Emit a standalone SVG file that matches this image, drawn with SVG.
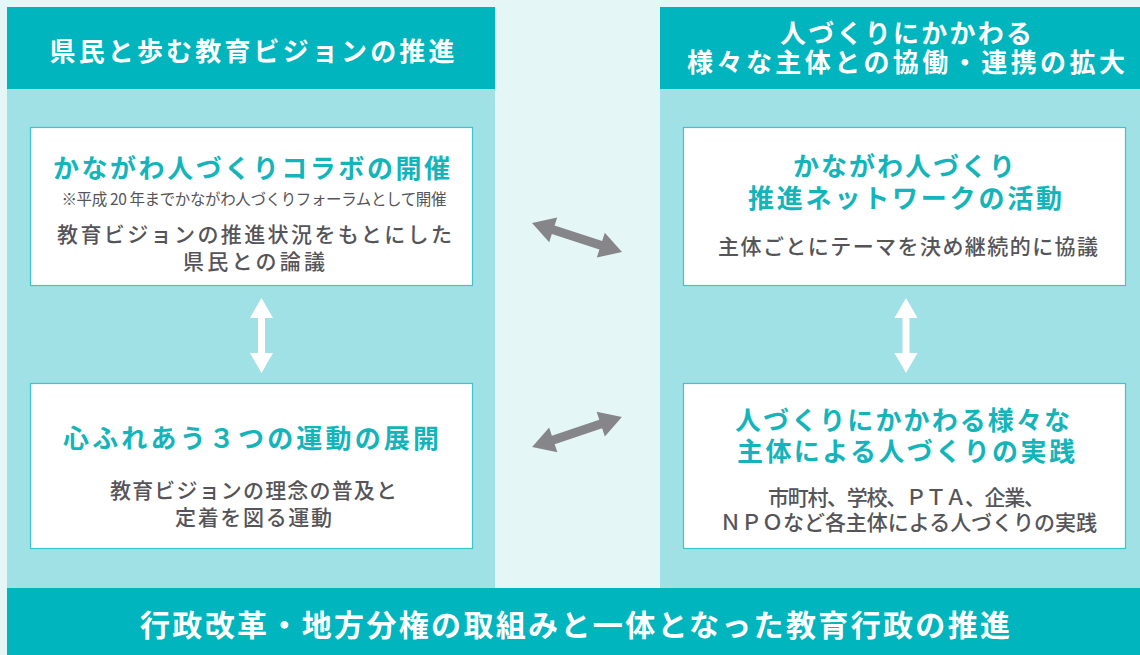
<svg xmlns="http://www.w3.org/2000/svg" width="1140" height="655" viewBox="0 0 1140 655">
<style>
.bg{fill:#e4f6f6}
.panel{fill:#9fe1e5}
.hdr{fill:#00b5bd}
.box{fill:#ffffff;stroke:#3cc6ca;stroke-width:1.2}
text{font-family:"Noto Sans CJK JP","Noto Sans",sans-serif;text-anchor:middle}
.ht{fill:#ffffff;font-weight:bold;font-size:26px}
.tt{fill:#14b4bb;font-weight:bold;font-size:26px}
.bt{fill:#555559;font-size:21px;font-weight:500}
.nt{fill:#555559;font-size:15.5px}
.wa{fill:#ffffff}
.ga{fill:#86868a}
</style>
<defs>
<path id="garrow" d="M-47.3,0 L-25,-13 L-25,-4.5 L25,-4.5 L25,-13 L47.3,0 L25,13 L25,4.5 L-25,4.5 L-25,13 Z"/>
<path id="varrow" d="M0,-37.5 L11.5,-17.5 L3.5,-17.5 L3.5,17.5 L11.5,17.5 L0,37.5 L-11.5,17.5 L-3.5,17.5 L-3.5,-17.5 L-11.5,-17.5 Z"/>
</defs>
<rect class="bg" x="0" y="0" width="1140" height="655"/>

<g id="left-panel">
<rect class="panel" x="7" y="89" width="488" height="499"/>
<rect class="hdr" x="7" y="7" width="488" height="82"/>
<text class="ht" x="252" y="61" textLength="405" lengthAdjust="spacing">県民と歩む教育ビジョンの推進</text>
</g>

<g id="right-panel">
<rect class="panel" x="660" y="89" width="480" height="499"/>
<rect class="hdr" x="660" y="7" width="480" height="82"/>
<text class="ht" x="906" y="43" textLength="252" lengthAdjust="spacing">人づくりにかかわる</text>
<text class="ht" x="906" y="72" textLength="438" lengthAdjust="spacing">様々な主体との協働・連携の拡大</text>
</g>

<g id="bottom-bar">
<rect class="hdr" x="7" y="588" width="1133" height="67"/>
<text class="ht" x="575" y="636" style="font-size:30px" textLength="870" lengthAdjust="spacing">行政改革・地方分権の取組みと一体となった教育行政の推進</text>
</g>

<g id="node-collabo">
<rect class="box" x="30.5" y="127.5" width="442" height="158"/>
<text class="tt" x="251.5" y="178" textLength="397" lengthAdjust="spacing">かながわ人づくりコラボの開催</text>
<text class="nt" x="254" y="205" textLength="385" lengthAdjust="spacing">※平成 20 年までかながわ人づくりフォーラムとして開催</text>
<text class="bt" x="254.5" y="242" textLength="395" lengthAdjust="spacing">教育ビジョンの推進状況をもとにした</text>
<text class="bt" x="254" y="269" textLength="142" lengthAdjust="spacing">県民との論議</text>
</g>

<g id="node-movement">
<rect class="box" x="30.5" y="383.5" width="442" height="165"/>
<text class="tt" x="251" y="448" textLength="376" lengthAdjust="spacing">心ふれあう３つの運動の展開</text>
<text class="bt" x="253.5" y="498" textLength="287" lengthAdjust="spacing">教育ビジョンの理念の普及と</text>
<text class="bt" x="253.5" y="525" textLength="157" lengthAdjust="spacing">定着を図る運動</text>
</g>

<g id="node-network">
<rect class="box" x="683.5" y="127.5" width="442" height="158"/>
<text class="tt" x="904" y="176" textLength="222" lengthAdjust="spacing">かながわ人づくり</text>
<text class="tt" x="905" y="208" textLength="314" lengthAdjust="spacing">推進ネットワークの活動</text>
<text class="bt" x="908" y="254" textLength="380" lengthAdjust="spacing">主体ごとにテーマを決め継続的に協議</text>
</g>

<g id="node-practice">
<rect class="box" x="683.5" y="383.5" width="442" height="165"/>
<text class="tt" x="902.5" y="430" textLength="335" lengthAdjust="spacing">人づくりにかかわる様々な</text>
<text class="tt" x="906" y="461" textLength="338" lengthAdjust="spacing">主体による人づくりの実践</text>
<text class="bt" x="906.5" y="505" textLength="277" lengthAdjust="spacing">市町村、学校、ＰＴＡ、企業、</text>
<text class="bt" x="908.5" y="530" textLength="377" lengthAdjust="spacing">ＮＰＯなど各主体による人づくりの実践</text>
</g>

<g id="connectors">
<use href="#varrow" class="wa" transform="translate(261.5,335.5)"/>
<use href="#varrow" class="wa" transform="translate(906,335.5)"/>
<use href="#garrow" class="ga" transform="translate(577,237.5) rotate(17.86)"/>
<use href="#garrow" class="ga" transform="translate(577,432) rotate(-18.43)"/>
</g>
</svg>
